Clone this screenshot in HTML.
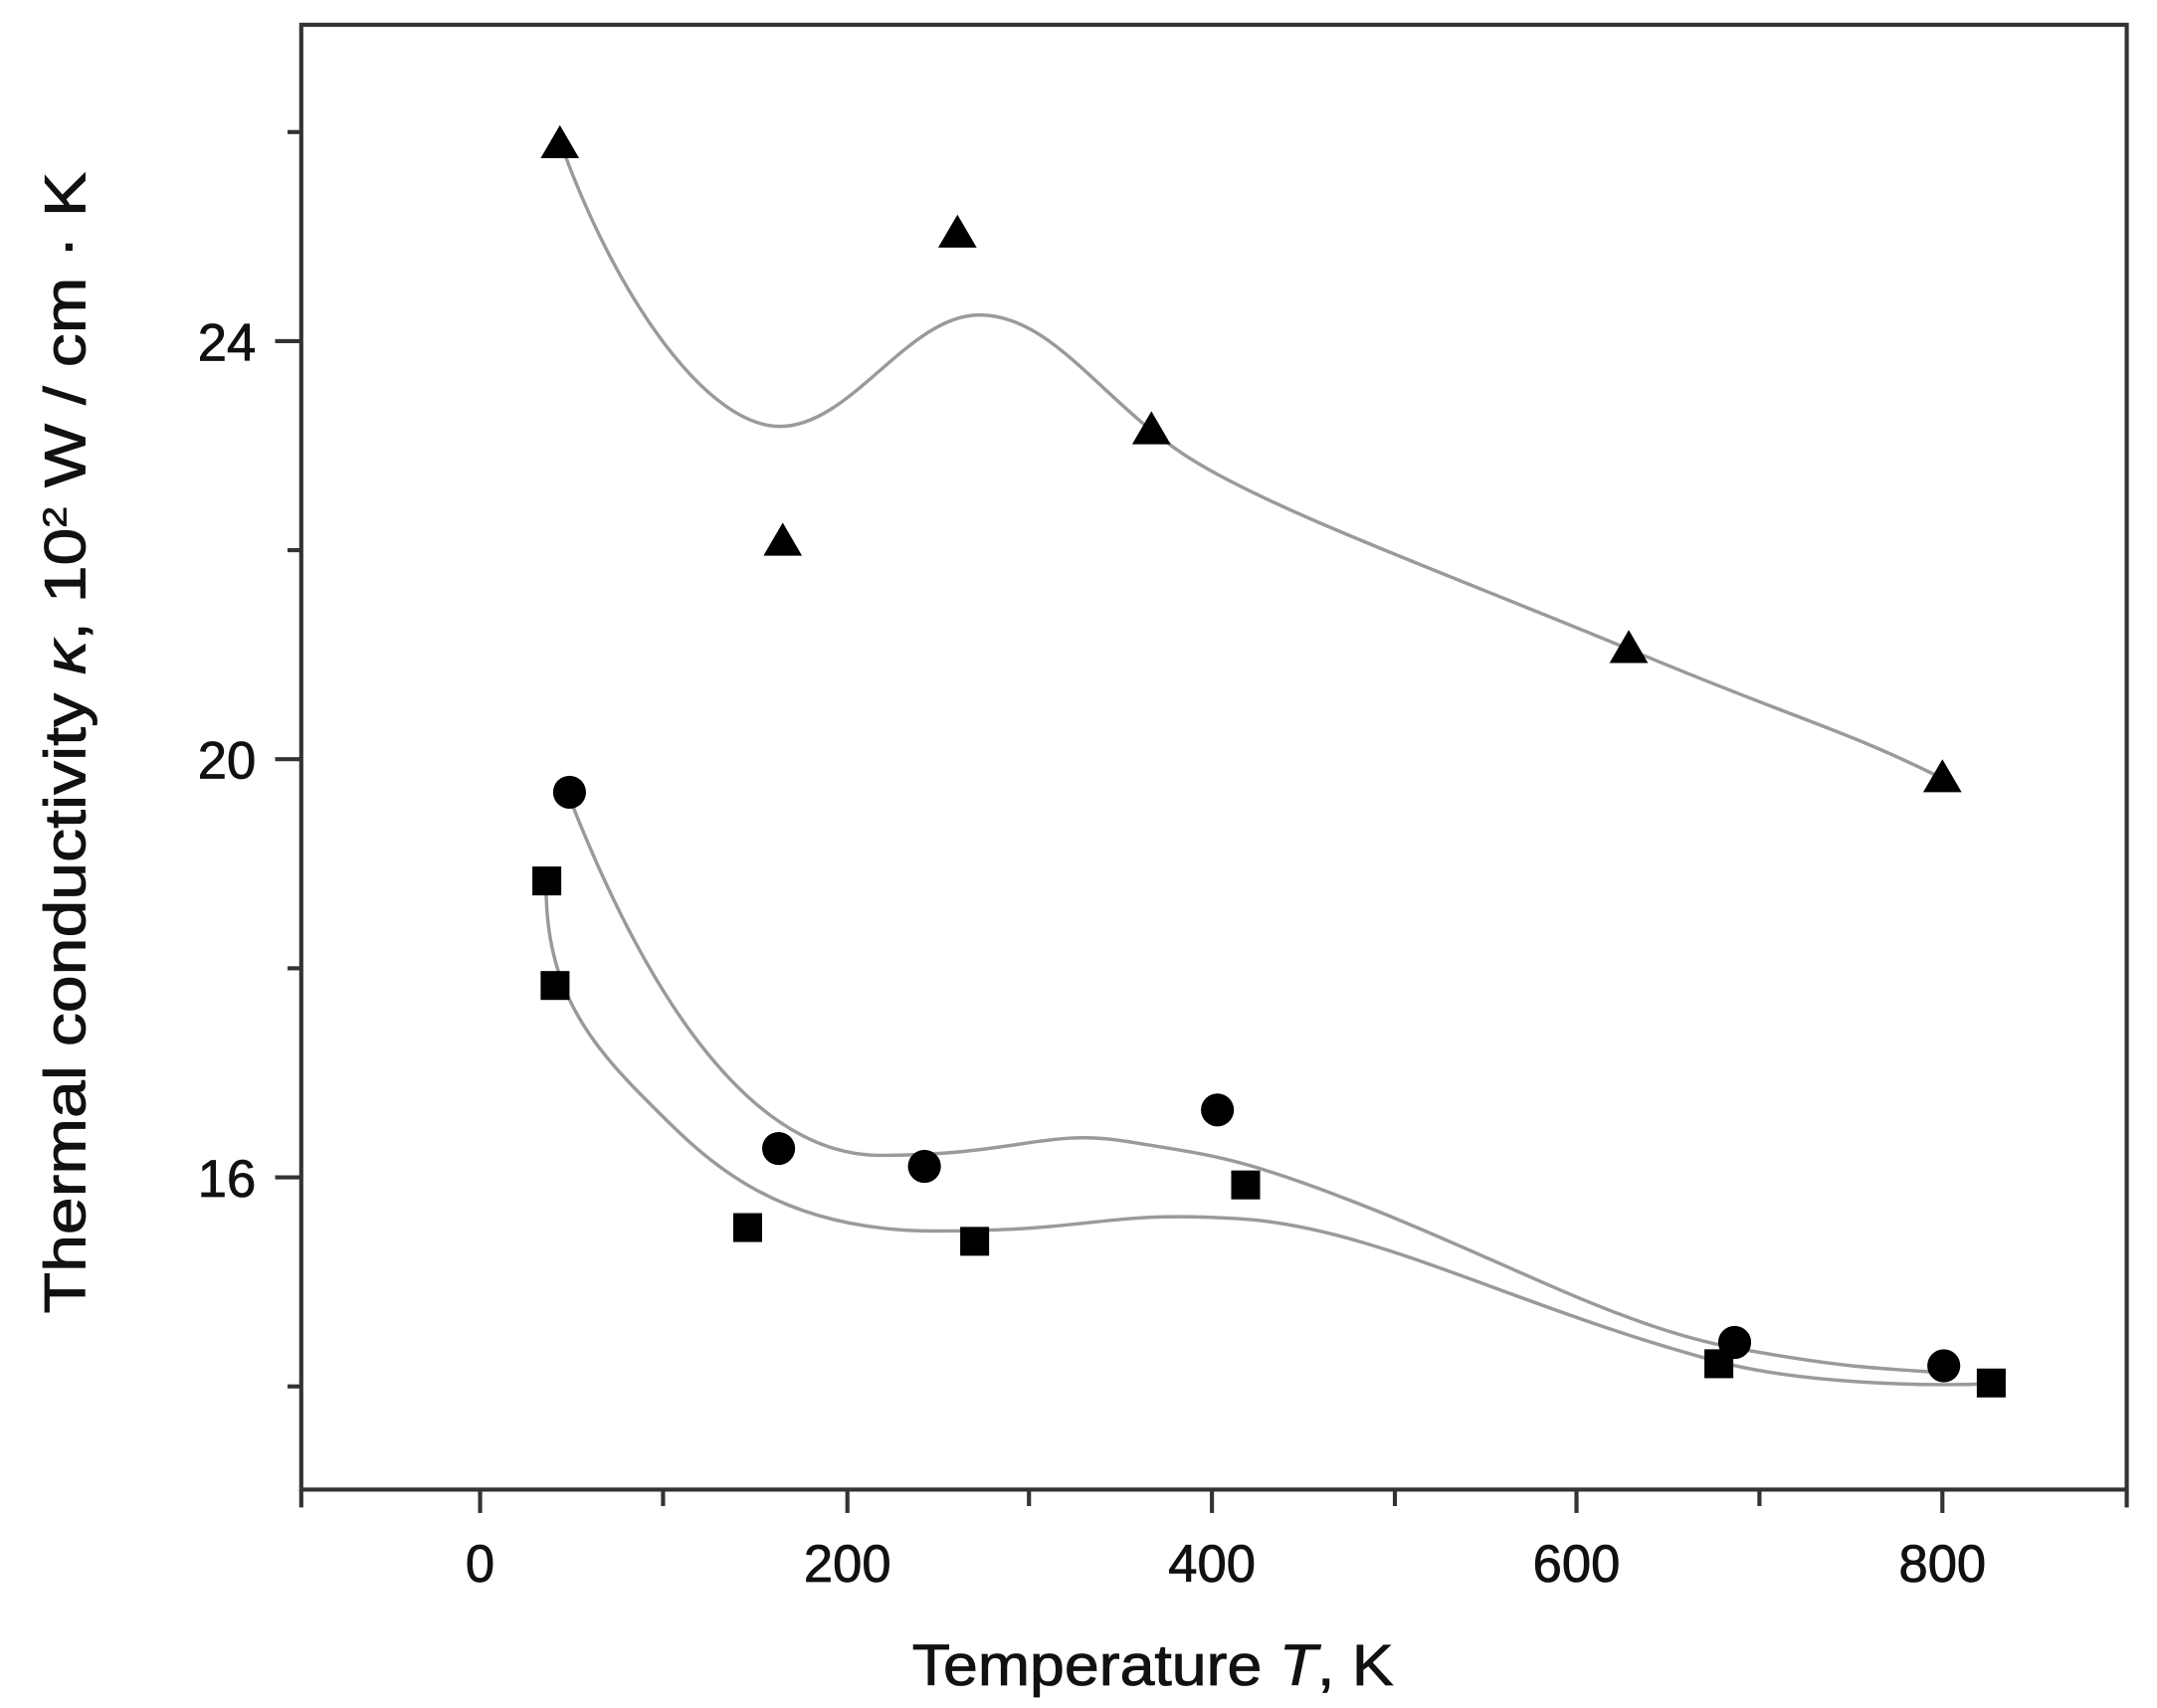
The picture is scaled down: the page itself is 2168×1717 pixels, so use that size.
<!DOCTYPE html>
<html><head><meta charset="utf-8"><style>html,body{margin:0;padding:0;background:#fff}svg{display:block}</style></head>
<body>
<svg width="2168" height="1717" viewBox="0 0 1568 1241.8" preserveAspectRatio="none" xmlns="http://www.w3.org/2000/svg" font-family="Liberation Sans, sans-serif">
<rect width="1568" height="1241.8" fill="#fff"/>
<rect x="219" y="18" width="1327" height="1065" fill="none" stroke="#333" stroke-width="3"/>
<g stroke="#333" stroke-width="3">
<line x1="219" y1="1083" x2="219" y2="1096"/>
<line x1="349" y1="1083" x2="349" y2="1100"/>
<line x1="482" y1="1083" x2="482" y2="1095"/>
<line x1="616" y1="1083" x2="616" y2="1100"/>
<line x1="748" y1="1083" x2="748" y2="1095"/>
<line x1="881" y1="1083" x2="881" y2="1100"/>
<line x1="1014" y1="1083" x2="1014" y2="1095"/>
<line x1="1146" y1="1083" x2="1146" y2="1100"/>
<line x1="1279" y1="1083" x2="1279" y2="1095"/>
<line x1="1412" y1="1083" x2="1412" y2="1100"/>
<line x1="1546" y1="1083" x2="1546" y2="1096"/>
<line x1="219" y1="96" x2="209" y2="96"/>
<line x1="219" y1="248" x2="200" y2="248"/>
<line x1="219" y1="400" x2="209" y2="400"/>
<line x1="219" y1="552" x2="200" y2="552"/>
<line x1="219" y1="704" x2="209" y2="704"/>
<line x1="219" y1="856" x2="200" y2="856"/>
<line x1="219" y1="1008" x2="209" y2="1008"/>
</g>
<g font-size="38" fill="#111" text-anchor="middle" stroke="#111" stroke-width="0.6">
<text x="349" y="1150">0</text>
<text x="616" y="1150">200</text>
<text x="881" y="1150">400</text>
<text x="1146" y="1150">600</text>
<text x="1412" y="1150">800</text>
</g>
<g font-size="38" fill="#111" text-anchor="end" stroke="#111" stroke-width="0.6">
<text x="186" y="262">24</text>
<text x="186" y="566">20</text>
<text x="186" y="870">16</text>
</g>
<text x="663" y="1225" font-size="42" fill="#111" stroke="#111" stroke-width="0.6" textLength="350" lengthAdjust="spacingAndGlyphs">Temperature <tspan font-style="italic">T</tspan>, K</text>
<text transform="translate(62,955) rotate(-90)" font-size="42" fill="#111" stroke="#111" stroke-width="0.6" textLength="830" lengthAdjust="spacingAndGlyphs">Thermal conductivity <tspan font-style="italic">κ</tspan>, 10<tspan font-size="24" dy="-14">2</tspan><tspan dy="14"> W / cm · K</tspan></text>
<g fill="none" stroke="#9a9a9a" stroke-width="2.5">
<path d="M409,108 C450,220 515,310 567,310 S660,229 712,229 S800,290 860,330 S1060,420 1184,472 S1340,530 1412,566"/>
<path d="M414,580 C465,710 540,840 640,840 S760,820 820,830 S900,840 1000,880 S1180,965 1261,980 S1370,995 1413,998"/>
<path d="M397,645 C397,720 430,760 470,800 S560,895 680,895 S800,880 900,886 S1100,950 1249,990 C1310,1006 1400,1008 1447,1006"/>
</g>
<g fill="#000">
<polygon points="407,91 421,115 393,115"/>
<polygon points="569,380 583,404 555,404"/>
<polygon points="696,156 710,180 682,180"/>
<polygon points="837,299 851,323 823,323"/>
<polygon points="1184,458 1198,482 1170,482"/>
<polygon points="1412,552 1426,576 1398,576"/>
<circle cx="414" cy="576" r="12"/>
<circle cx="566" cy="835" r="12"/>
<circle cx="672" cy="848" r="12"/>
<circle cx="885" cy="807" r="12"/>
<circle cx="1261" cy="976" r="12"/>
<circle cx="1413" cy="993" r="12"/>
<rect x="387" y="630" width="21" height="21"/>
<rect x="393" y="706" width="21" height="21"/>
<rect x="533" y="882" width="21" height="21"/>
<rect x="698" y="892" width="21" height="21"/>
<rect x="895" y="851" width="21" height="21"/>
<rect x="1239" y="981" width="21" height="21"/>
<rect x="1437" y="995" width="21" height="21"/>
</g>
</svg>
</body></html>
